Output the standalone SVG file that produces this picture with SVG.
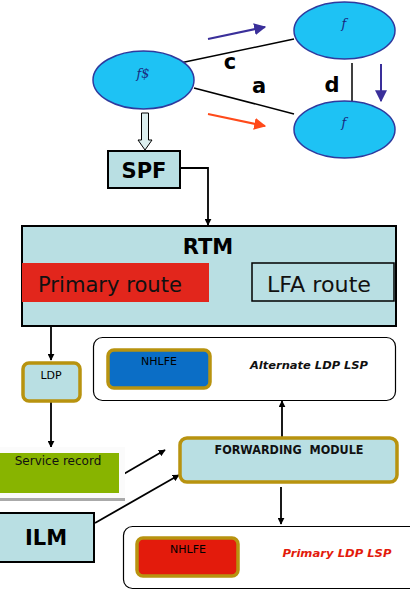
<svg xmlns="http://www.w3.org/2000/svg" width="410" height="598" viewBox="0 0 410 598">
<style>
.ell{fill:#1ec2f4;stroke:#2e3a9e;stroke-width:1.5}
.et{font-family:"DejaVu Serif",serif;font-style:italic;font-size:13px;fill:#1a2a80;text-anchor:middle}
.lbl{font-family:"DejaVu Sans",sans-serif;font-weight:bold;font-size:21px;fill:#000;text-anchor:middle}
.box{fill:#b9dfe3;stroke:#000;stroke-width:2}
.gold{stroke:#b8930f;stroke-width:3.5}
.conn{stroke:#000;stroke-width:1.8;fill:none}
.thin{stroke:#000;stroke-width:1.5;fill:none}
.small{font-family:"DejaVu Sans",sans-serif;font-size:11px;fill:#000;text-anchor:middle}
</style>
<defs>
<marker id="ah" viewBox="0 0 10 10" refX="9" refY="5" markerWidth="7" markerHeight="7" markerUnits="userSpaceOnUse" orient="auto"><path d="M0,0 L10,5 L0,10 z" fill="#000"/></marker>
<marker id="ahb" viewBox="0 0 10 10" refX="9" refY="5" markerWidth="12" markerHeight="12" markerUnits="userSpaceOnUse" orient="auto"><path d="M0,0 L10,5 L0,10 z" fill="#3a2f9a"/></marker>
<marker id="aho" viewBox="0 0 10 10" refX="9" refY="5" markerWidth="12" markerHeight="12" markerUnits="userSpaceOnUse" orient="auto"><path d="M0,0 L10,5 L0,10 z" fill="#ff4a1a"/></marker>
</defs>

<g id="connectors">
<line x1="180" y1="63" x2="294" y2="39" class="thin"/>
<line x1="194" y1="88" x2="294" y2="114" class="thin"/>
<line x1="352" y1="63" x2="352" y2="101" class="thin"/>
<line x1="208" y1="39" x2="265" y2="27" stroke="#3a2f9a" stroke-width="2" marker-end="url(#ahb)"/>
<line x1="208" y1="114" x2="265" y2="126" stroke="#ff4a1a" stroke-width="2" marker-end="url(#aho)"/>
<line x1="381" y1="64" x2="381" y2="101" stroke="#3a2f9a" stroke-width="2" marker-end="url(#ahb)"/>
<path d="M141.5,113 L148.5,113 L148.5,140 L152,140 L145,150 L138,140 L141.5,140 Z" fill="#dcefef" stroke="#000" stroke-width="1"/>
<path d="M180,168 L208,168 L208,225" class="conn" marker-end="url(#ah)"/>
<line x1="51" y1="326" x2="51" y2="360" class="conn" marker-end="url(#ah)"/>
<line x1="51" y1="402" x2="51" y2="447" class="conn" marker-end="url(#ah)"/>
<line x1="122" y1="475" x2="165" y2="450" class="conn" marker-end="url(#ah)"/>
<line x1="95" y1="523" x2="179" y2="475" class="conn" marker-end="url(#ah)"/>
<line x1="282" y1="437" x2="282" y2="401" class="conn" marker-end="url(#ah)"/>
<line x1="281" y1="487" x2="281" y2="524" class="conn" marker-end="url(#ah)"/>
</g>

<g id="labels">
<text x="230" y="69" class="lbl" font-size="22">c</text>
<text x="259" y="93" class="lbl" font-size="22">a</text>
<text x="332" y="92" class="lbl" font-size="22">d</text>
</g>

<g id="node-src">
<ellipse cx="143.5" cy="80" rx="50.5" ry="29" class="ell"/>
<text x="143" y="78" class="et">f$</text>
</g>
<g id="node-top">
<ellipse cx="344.5" cy="30.5" rx="50.5" ry="28.5" class="ell"/>
<text x="344" y="28" class="et">f</text>
</g>
<g id="node-bottom">
<ellipse cx="344.5" cy="129.5" rx="50.5" ry="28.5" class="ell"/>
<text x="344" y="127" class="et">f</text>
</g>

<g id="spf">
<rect x="108" y="151" width="72" height="37" class="box"/>
<text x="144" y="178" class="lbl" font-size="22">SPF</text>
</g>

<g id="rtm">
<rect x="22" y="226" width="374" height="100" class="box"/>
<text x="208" y="254" class="lbl" font-size="22">RTM</text>
<rect x="22" y="263" width="187" height="39" fill="#e2261c"/>
<text x="38" y="292" font-family="'DejaVu Sans',sans-serif" font-size="22" textLength="144" lengthAdjust="spacingAndGlyphs" fill="#111">Primary route</text>
<rect x="252" y="263" width="142" height="38" fill="#b9dfe3" stroke="#000" stroke-width="1.5"/>
<text x="267" y="292" font-family="'DejaVu Sans',sans-serif" font-size="22" textLength="104" lengthAdjust="spacingAndGlyphs" fill="#111">LFA route</text>
</g>

<g id="ldp">
<rect x="23" y="363" width="57" height="38" rx="6" fill="#b9dfe3" class="gold"/>
<text x="51" y="379" class="small">LDP</text>
</g>

<g id="service-record">
<rect x="0" y="447" width="125" height="52" fill="#fbfbfb"/>
<line x1="0" y1="499.5" x2="125" y2="499.5" stroke="#aaa" stroke-width="3"/>
<rect x="0" y="453" width="119" height="40" fill="#88b400"/>
<text x="58" y="465" font-family="'DejaVu Sans',sans-serif" font-size="12" fill="#111" text-anchor="middle">Service record</text>
</g>

<g id="ilm">
<rect x="-2" y="513" width="96" height="49" class="box"/>
<text x="46" y="545" class="lbl" font-size="23">ILM</text>
</g>

<g id="forwarding-module">
<rect x="180" y="438" width="217" height="44" rx="7" fill="#b9dfe3" class="gold"/>
<text x="289" y="454" style="white-space:pre" xml:space="preserve" font-family="'DejaVu Sans',sans-serif" font-weight="bold" font-size="11.5" fill="#111" text-anchor="middle" textLength="149" lengthAdjust="spacingAndGlyphs">FORWARDING  MODULE</text>
</g>

<g id="alternate-lsp">
<rect x="93.5" y="337.5" width="302" height="63" rx="9" fill="#fff" stroke="#000" stroke-width="1.2"/>
<rect x="108" y="350" width="102" height="38" rx="6" fill="#0b6ec6" class="gold"/>
<text x="159" y="365" class="small">NHLFE</text>
<text x="309" y="369" font-family="'DejaVu Sans',sans-serif" font-weight="bold" font-style="italic" font-size="11" fill="#111" text-anchor="middle" textLength="118" lengthAdjust="spacingAndGlyphs">Alternate LDP LSP</text>
</g>

<g id="primary-lsp">
<rect x="123.5" y="526.5" width="300" height="62" rx="9" fill="#fff" stroke="#000" stroke-width="1.2"/>
<rect x="137" y="538" width="101" height="38" rx="6" fill="#e31b0c" class="gold"/>
<text x="188" y="553" class="small">NHLFE</text>
<text x="337" y="557" font-family="'DejaVu Sans',sans-serif" font-weight="bold" font-style="italic" font-size="11" fill="#e31b0c" text-anchor="middle" textLength="109" lengthAdjust="spacingAndGlyphs">Primary LDP LSP</text>
</g>
</svg>
